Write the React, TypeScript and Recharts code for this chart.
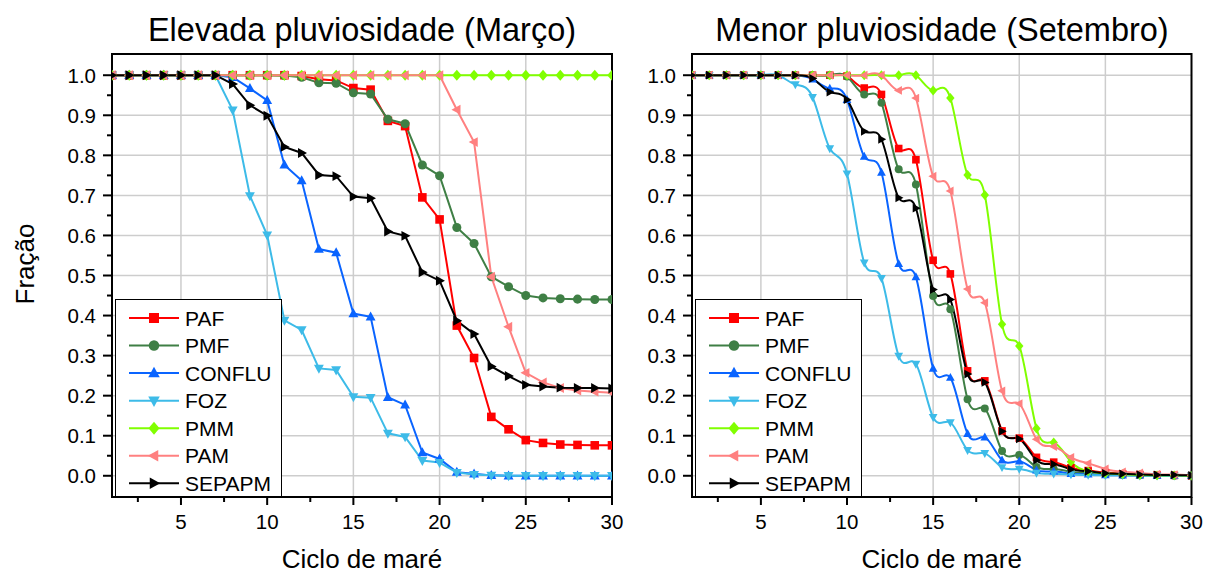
import React from "react";
import {
  LineChart,
  Line,
  XAxis,
  YAxis,
  CartesianGrid,
  ReferenceArea,
  Legend,
} from "recharts";

const cycles = [1, 2, 3, 4, 5, 6, 7, 8, 9, 10, 11, 12, 13, 14, 15, 16, 17, 18, 19, 20, 21, 22, 23, 24, 25, 26, 27, 28, 29, 30];

// Elevada pluviosidade (Março)
const marPAF = [1, 1, 1, 1, 1, 1, 1, 1, 1, 1, 1, 0.998, 0.99, 0.987, 0.968, 0.964, 0.886, 0.873, 0.695, 0.64, 0.375, 0.294, 0.147, 0.116, 0.089, 0.082, 0.078, 0.077, 0.076, 0.076];
const marPMF = [1, 1, 1, 1, 1, 1, 1, 1, 1, 1, 0.999, 0.995, 0.981, 0.98, 0.956, 0.953, 0.89, 0.879, 0.776, 0.749, 0.62, 0.58, 0.497, 0.472, 0.45, 0.444, 0.442, 0.441, 0.44, 0.44];
const marCONFLU = [1, 1, 1, 1, 1, 1, 1, 0.995, 0.967, 0.937, 0.776, 0.737, 0.566, 0.557, 0.405, 0.397, 0.196, 0.177, 0.058, 0.042, 0.009, 0.005, 0.001, 0, 0, 0, 0, 0, 0, 0];
const marFOZ = [1, 1, 1, 1, 1, 1, 1, 0.913, 0.699, 0.601, 0.388, 0.364, 0.268, 0.264, 0.197, 0.195, 0.106, 0.097, 0.038, 0.033, 0.008, 0.003, 0.001, 0, 0, 0, 0, 0, 0, 0];
const marPMM = [1, 1, 1, 1, 1, 1, 1, 1, 1, 1, 1, 1, 1, 1, 1, 1, 1, 1, 1, 1, 1, 1, 1, 1, 1, 1, 1, 1, 1, 1];
const marPAM = [1, 1, 1, 1, 1, 1, 1, 1, 1, 1, 1, 1, 1, 1, 1, 1, 1, 1, 1, 1, 0.914, 0.833, 0.497, 0.372, 0.257, 0.233, 0.219, 0.213, 0.21, 0.207];
const marSEPAPM = [1, 1, 1, 1, 1, 1, 1, 0.978, 0.925, 0.899, 0.821, 0.806, 0.751, 0.748, 0.697, 0.693, 0.61, 0.599, 0.508, 0.487, 0.387, 0.354, 0.273, 0.249, 0.227, 0.223, 0.22, 0.219, 0.219, 0.218];

// Menor pluviosidade (Setembro)
const setPAF = [1, 1, 1, 1, 1, 1, 1, 1, 1, 0.998, 0.968, 0.952, 0.817, 0.789, 0.538, 0.504, 0.262, 0.237, 0.112, 0.094, 0.046, 0.034, 0.02, 0.013, 0.008, 0.005, 0.003, 0.002, 0.001, 0];
const setPMF = [1, 1, 1, 1, 1, 1, 1, 1, 1, 0.997, 0.952, 0.931, 0.765, 0.727, 0.449, 0.416, 0.191, 0.168, 0.062, 0.052, 0.022, 0.017, 0.01, 0.006, 0.004, 0.002, 0.001, 0.001, 0, 0];
const setCONFLU = [1, 1, 1, 1, 1, 1, 1, 0.99, 0.967, 0.939, 0.797, 0.757, 0.529, 0.496, 0.268, 0.245, 0.105, 0.096, 0.039, 0.036, 0.014, 0.011, 0.005, 0.004, 0.002, 0.001, 0.001, 0, 0, 0];
const setFOZ = [1, 1, 1, 1, 1, 1, 0.977, 0.945, 0.817, 0.754, 0.532, 0.493, 0.299, 0.279, 0.146, 0.133, 0.064, 0.056, 0.021, 0.017, 0.007, 0.005, 0.003, 0.002, 0.001, 0.001, 0, 0, 0, 0];
const setPMM = [1, 1, 1, 1, 1, 1, 1, 1, 1, 1, 1, 1, 1, 1, 0.962, 0.943, 0.751, 0.701, 0.378, 0.324, 0.118, 0.083, 0.035, 0.011, 0.006, 0.004, 0.002, 0.001, 0.001, 0];
const setPAM = [1, 1, 1, 1, 1, 1, 1, 1, 1, 1, 1, 1, 0.962, 0.943, 0.748, 0.711, 0.466, 0.432, 0.212, 0.18, 0.091, 0.073, 0.046, 0.031, 0.017, 0.01, 0.007, 0.004, 0.003, 0.001];
const setSEPAPM = [1, 1, 1, 1, 1, 1, 1, 0.992, 0.958, 0.939, 0.86, 0.84, 0.694, 0.668, 0.465, 0.44, 0.254, 0.233, 0.111, 0.092, 0.039, 0.029, 0.016, 0.011, 0.006, 0.005, 0.003, 0.002, 0.002, 0.001];

const xTicks = [2.5, 5, 7.5, 10, 12.5, 15, 17.5, 20, 22.5, 25, 27.5, 30];
const xGrid = [5, 10, 15, 20, 25];
const yTicks = [0, 0.05, 0.1, 0.15, 0.2, 0.25, 0.3, 0.35, 0.4, 0.45, 0.5, 0.55, 0.6, 0.65, 0.7, 0.75, 0.8, 0.85, 0.9, 0.95, 1];
const yGrid = [0, 0.1, 0.2, 0.3, 0.4, 0.5, 0.6, 0.7, 0.8, 0.9, 1];

const series = [
  { key: "PAF", color: "#ff0000", shape: "square" },
  { key: "PMF", color: "#3f7f45", shape: "circle" },
  { key: "CONFLU", color: "#0a64ff", shape: "up" },
  { key: "FOZ", color: "#3dbbe8", shape: "down" },
  { key: "PMM", color: "#80ff00", shape: "diamond" },
  { key: "PAM", color: "#ff8080", shape: "left" },
  { key: "SEPAPM", color: "#000000", shape: "right" },
];

const buildRows = (cols: Record<string, number[]>) =>
  cycles.map((c, i) => {
    const row: any = { cycle: c };
    Object.keys(cols).forEach((k) => (row[k] = cols[k][i]));
    return row;
  });

const marchData = buildRows({ PAF: marPAF, PMF: marPMF, CONFLU: marCONFLU, FOZ: marFOZ, PMM: marPMM, PAM: marPAM, SEPAPM: marSEPAPM });
const septData = buildRows({ PAF: setPAF, PMF: setPMF, CONFLU: setCONFLU, FOZ: setFOZ, PMM: setPMM, PAM: setPAM, SEPAPM: setSEPAPM });

const Marker = ({ shape, cx, cy, r, color }: any) => {
  if (cx == null || cy == null) return null;
  switch (shape) {
    case "square":
      return <rect x={cx - r} y={cy - r} width={2 * r} height={2 * r} fill={color} />;
    case "circle":
      return <circle cx={cx} cy={cy} r={r * 1.05} fill={color} />;
    case "up":
      return <polygon points={`${cx},${cy - r * 1.25} ${cx - r * 1.15},${cy + r * 0.85} ${cx + r * 1.15},${cy + r * 0.85}`} fill={color} />;
    case "down":
      return <polygon points={`${cx},${cy + r * 1.25} ${cx - r * 1.15},${cy - r * 0.85} ${cx + r * 1.15},${cy - r * 0.85}`} fill={color} />;
    case "diamond":
      return <polygon points={`${cx},${cy - r * 1.3} ${cx + r * 1.1},${cy} ${cx},${cy + r * 1.3} ${cx - r * 1.1},${cy}`} fill={color} />;
    case "left":
      return <polygon points={`${cx - r * 1.25},${cy} ${cx + r * 0.85},${cy - r * 1.15} ${cx + r * 0.85},${cy + r * 1.15}`} fill={color} />;
    default:
      return <polygon points={`${cx + r * 1.25},${cy} ${cx - r * 0.85},${cy - r * 1.15} ${cx - r * 0.85},${cy + r * 1.15}`} fill={color} />;
  }
};

const isMajorY = (v: number) => Math.abs(v * 10 - Math.round(v * 10)) < 1e-6;
const isMajorX = (v: number) => Math.abs(v / 5 - Math.round(v / 5)) < 1e-6;

const YTick = ({ x, y, payload }: any) => {
  const major = isMajorY(payload.value);
  return (
    <g>
      <line x1={x - (major ? 9 : 5)} x2={x} y1={y} y2={y} stroke="#000" strokeWidth={2} />
      {major && (
        <text x={x - 16} y={y} dy="0.36em" textAnchor="end" fontSize={20.5} fill="#000">
          {payload.value.toFixed(1)}
        </text>
      )}
    </g>
  );
};

const XTick = ({ x, y, payload }: any) => {
  const major = isMajorX(payload.value);
  return (
    <g>
      <line x1={x} x2={x} y1={y} y2={y + (major ? 8 : 5)} stroke="#000" strokeWidth={2} />
      {major && (
        <text x={x} y={y + 32} textAnchor="middle" fontSize={20.5} fill="#000">
          {payload.value}
        </text>
      )}
    </g>
  );
};

const LegendBox = ({ r }: { r: number }) => (
  <div style={{ width: 167, height: 198, border: "1px solid #000", background: "#fff", boxSizing: "border-box" }}>
    <svg width={165} height={196}>
      {series.map((s, i) => {
        const cy = 18 + i * 27.55;
        return (
          <g key={s.key}>
            <line x1={13} x2={63} y1={cy} y2={cy} stroke={s.color} strokeWidth={2} />
            <Marker shape={s.shape} cx={38} cy={cy} r={r} color={s.color} />
            <text x={69} y={cy} dy="0.36em" fontSize={21} fill="#000">
              {s.key}
            </text>
          </g>
        );
      })}
    </svg>
  </div>
);

const Panel = ({ data, width, right, curve, r }: any) => (
  <LineChart width={width} height={574} data={data} margin={{ top: 54, right, bottom: 0, left: 0 }}>
    <CartesianGrid horizontalValues={yGrid} verticalValues={xGrid} stroke="#cdcdcd" strokeWidth={1.5} />
    <XAxis
      dataKey="cycle"
      type="number"
      domain={[1, 30]}
      ticks={xTicks}
      interval={0}
      allowDataOverflow
      height={77}
      tickSize={0}
      tickMargin={0}
      tickLine={false}
      axisLine={{ stroke: "#000", strokeWidth: 2 }}
      tick={<XTick />}
      label={{ value: "Ciclo de maré", position: "insideBottom", offset: 6, fontSize: 26, fill: "#000" }}
    />
    <YAxis
      type="number"
      domain={[-0.053, 1.053]}
      ticks={yTicks}
      interval={0}
      allowDataOverflow
      width={112}
      tickSize={0}
      tickMargin={0}
      tickLine={false}
      axisLine={{ stroke: "#000", strokeWidth: 2 }}
      tick={<YTick />}
    />
    <ReferenceArea x1={1} x2={30} y1={-0.053} y2={1.053} fill="none" stroke="#000" strokeWidth={2} ifOverflow="visible" />
    {series.map((s) => (
      <Line
        key={s.key}
        dataKey={s.key}
        type={curve}
        stroke={s.color}
        strokeWidth={2}
        isAnimationActive={false}
        dot={(p: any) => <Marker key={`${s.key}-${p.index}`} shape={s.shape} cx={p.cx} cy={p.cy} r={r} color={s.color} />}
        activeDot={false}
      />
    ))}
    <Legend
      layout="horizontal"
      align="center"
      verticalAlign="middle"
      wrapperStyle={{ left: 115, top: 299, width: 167, height: 198 }}
      content={() => <LegendBox r={5} />}
    />
  </LineChart>
);

export default function App() {
  return (
    <div
      style={{
        position: "absolute",
        left: 0,
        top: 0,
        width: 1206,
        height: 574,
        background: "#fff",
        fontFamily: "'Liberation Sans', Arial, sans-serif",
        overflow: "hidden",
      }}
    >
      <div style={{ position: "absolute", left: 0, top: 0 }}>
        <Panel data={marchData} width={640} right={28} curve="linear" r={4.3} />
      </div>
      <div style={{ position: "absolute", left: 580, top: 0 }}>
        <Panel data={septData} width={626} right={14.5} curve="natural" r={3.8} />
      </div>
      <svg width={1206} height={574} style={{ position: "absolute", left: 0, top: 0, pointerEvents: "none" }}>
        <text x={362} y={41} textAnchor="middle" fontSize={32.5} fill="#000">
          Elevada pluviosidade (Março)
        </text>
        <text x={942} y={41} textAnchor="middle" fontSize={32.5} fill="#000">
          Menor pluviosidade (Setembro)
        </text>
        <text transform="translate(33.5,264) rotate(-90)" textAnchor="middle" fontSize={26} fill="#000">
          Fração
        </text>
      </svg>
    </div>
  );
}
